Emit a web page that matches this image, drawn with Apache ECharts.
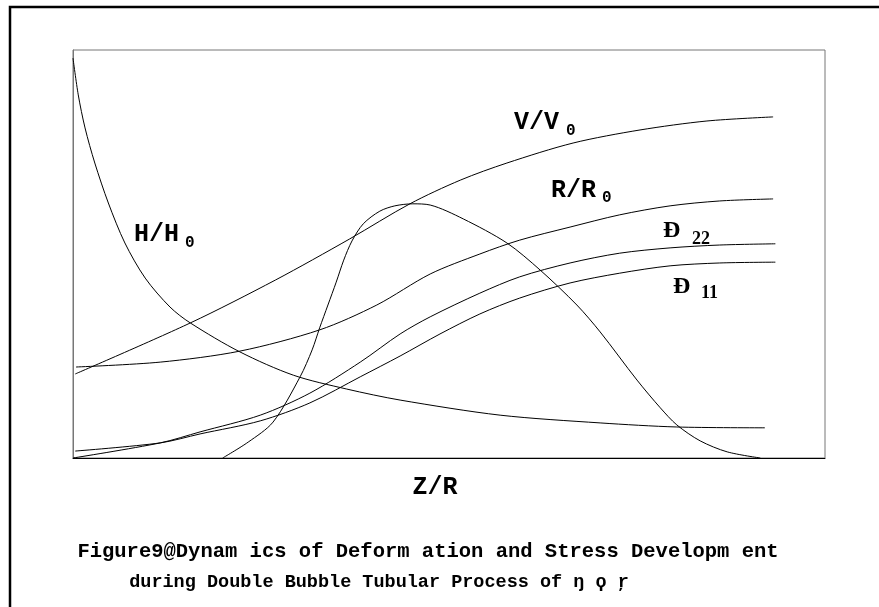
<!DOCTYPE html>
<html>
<head>
<meta charset="utf-8">
<script src="https://cdn.jsdelivr.net/npm/echarts@6/dist/echarts.min.js"></script>
<style>
html,body{margin:0;padding:0;background:#fff;}
#chart{width:879px;height:607px;}
</style>
</head>
<body>
<div id="chart"></div>
<script>
// x = Z/R (arbitrary units 0..10), y = normalized value (0..100)
var vV0 = [[0.03,20.6],[1.56,33.1],[2.69,43.6],[3.68,53.7],[4.48,62.3],[5.15,68.1],[5.77,72.3],[6.65,77.2],[7.54,80.4],[8.43,82.6],[9.31,83.6]];
var rR0 = [[0.04,22.3],[1.16,23.5],[2.22,26.2],[3.28,31.4],[4.04,37.5],[4.75,45.1],[5.41,50.0],[5.94,53.4],[6.61,56.6],[7.27,59.6],[7.94,61.8],[8.60,63.0],[9.31,63.5]];
var sigma22 = [[0,0],[1.16,3.7],[1.69,6.4],[2.49,10.5],[3.15,15.9],[3.82,23.5],[4.35,30.4],[4.75,34.6],[5.41,40.4],[5.94,44.4],[6.61,47.8],[7.27,50.2],[7.94,51.5],[8.60,52.2],[9.34,52.5]];
var sigma11 = [[0.03,1.7],[1.16,3.7],[1.69,5.9],[2.49,9.1],[3.15,13.5],[3.82,19.9],[4.35,25.0],[4.88,30.4],[5.41,35.3],[5.94,39.2],[6.61,42.9],[7.27,45.3],[7.94,47.1],[8.60,47.8],[9.34,48.0]];
var hH0 = [[0,98.0],[0.07,89.0],[0.16,80.9],[0.29,72.3],[0.47,62.5],[0.69,52.7],[0.96,44.1],[1.29,37.0],[1.56,33.1],[2.22,26.0],[2.93,20.3],[3.64,16.9],[4.35,14.2],[5.68,10.5],[7.01,8.6],[8.03,7.6],[9.20,7.4]];
var bell = [[1.99,0],[2.33,3.9],[2.66,8.8],[3.02,19.9],[3.18,26.5],[3.28,31.9],[3.39,37.5],[3.50,43.1],[3.60,48.5],[3.71,53.2],[3.86,57.4],[4.08,60.5],[4.28,61.8],[4.52,62.3],[4.75,62.0],[5.19,58.6],[5.77,52.7],[6.21,46.1],[6.70,37.5],[7.01,30.9],[7.50,19.1],[7.81,12.3],[8.03,8.1],[8.34,4.2],[8.70,1.5],[9.14,0]];

var xTitle = 'Z/R';
var captionLine1 = 'Figure9@Dynam ics of Deform ation and Stress Developm ent';
var captionLine2 = 'during Double Bubble Tubular Process of ŋ ϙ ŗ';

var monoBold = 'bold 25px "Liberation Mono", "Courier New", monospace';
var subFont = 'bold 16px "Liberation Mono", monospace';
var serifBold = 'bold 24px "Liberation Serif", "DejaVu Serif", serif';
var serifSub = 'bold 18px "Liberation Serif", serif';

function mk(data){
  return {type:'line', data:data, symbol:'none', smooth:0.3,
    lineStyle:{color:'#000', width:1}, silent:true, z:3};
}
function txt(s, x, y, font, align){
  return {type:'text', x:x, y:y, silent:true, z:10,
    style:{text:s, font:font, fill:'#000', align:align||'left', verticalAlign:'middle'}};
}

var chart = echarts.init(document.getElementById('chart'), null, {renderer:'canvas'});
chart.setOption({
  animation:false,
  backgroundColor:'#fff',
  grid:{left:73, top:50, right:54, bottom:149, show:true, borderColor:'#777', borderWidth:1},
  xAxis:{type:'value', min:0, max:10, axisLabel:{show:false}, axisTick:{show:false}, splitLine:{show:false},
    axisLine:{show:true, lineStyle:{color:'#000', width:1}}},
  yAxis:{type:'value', min:0, max:100, axisLabel:{show:false}, axisTick:{show:false}, splitLine:{show:false},
    axisLine:{show:true, lineStyle:{color:'#777', width:1}}},
  series:[mk(vV0), mk(rR0), mk(sigma22), mk(sigma11), mk(hH0), mk(bell)],
  graphic:[
    {type:'rect', silent:true, z:0, shape:{x:10, y:7, width:1000, height:1000},
      style:{fill:'none', stroke:'#000', lineWidth:2.5}},
    txt('V/V', 514, 123, monoBold), txt('0', 566, 131, subFont),
    txt('R/R', 551, 191, monoBold), txt('0', 602, 198, subFont),
    txt('H/H', 134, 235, monoBold), txt('0', 185, 243, subFont),
    txt('Đ', 663, 231, serifBold), txt('22', 692, 239, serifSub),
    txt('Đ', 673, 287, serifBold), txt('11', 701, 293, serifSub),
    txt(xTitle, 435, 488, monoBold, 'center'),
    txt(captionLine1, 428, 552, 'bold 20.5px "Liberation Mono", monospace', 'center'),
    txt(captionLine2, 379, 582, 'bold 18.5px "Liberation Mono", monospace', 'center')
  ]
});
</script>
</body>
</html>
